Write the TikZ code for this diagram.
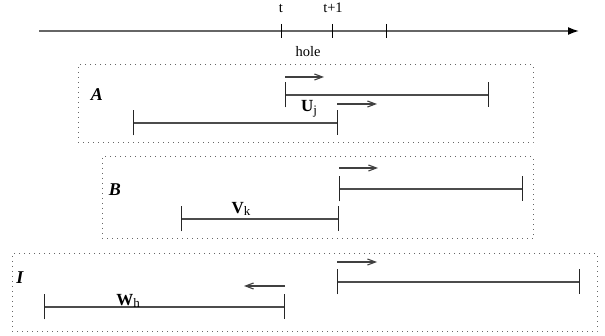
\documentclass[tikz,border=0pt]{standalone}
\usepackage{fontspec}
\setmainfont{Liberation Serif}
\usetikzlibrary{arrows.meta}
\tikzset{
  x=1pt,y=-1pt,
  txt/.style={inner sep=0pt,font=\fontsize{14.5}{16}\selectfont},
  boxlabel/.style={inner sep=0pt,font=\fontsize{18}{20}\selectfont\bfseries\itshape},
  seglabel/.style={inner sep=0pt,font=\fontsize{17}{19}\selectfont},
  frame/.style={draw=black!60,line width=1pt,dash pattern=on 1pt off 4pt},
  seg/.style={draw=black!70,line width=1.2pt,{Bar[width=25pt,line width=1.2pt,black!85]}-{Bar[width=25pt,line width=1.2pt,black!85]}},
  dir/.style={draw=black!75,line width=1.1pt,-{Straight Barb[length=8pt,width=6pt,line width=1.1pt]}},
  axis/.style={draw=black!60,line width=1.6pt,-{Latex[length=11pt,width=8pt,black]}},
  tick/.style={draw=black,line width=1pt}
}
\begin{document}
\begin{tikzpicture}
\useasboundingbox (0,0) rectangle (605,336);
% time axis
\coordinate (ax0) at (39,31);
\coordinate (ax1) at (579,31);
\draw[axis] (ax0) -- (ax1);
\foreach \n/\x in {t0/281,t1/332,t2/386}{
  \coordinate (\n a) at (\x,24);
  \coordinate (\n b) at (\x,38);
  \draw[tick] (\n a) -- (\n b);
}
\node[txt] (lt) at (281,8) {t};
\node[txt] (lt1) at (333,8) {t+1};
\node[txt] (lhole) at (308,52) {hole};
% box A
\node[frame,draw,minimum width=455pt,minimum height=78pt,inner sep=0pt] (boxA) at (305.5,104) {};
\node[boxlabel] (labA) at (97,95) {A};
\coordinate (a1l) at (285,95); \coordinate (a1r) at (489,95);
\coordinate (a2l) at (133,123); \coordinate (a2r) at (338,123);
\draw[seg] (a1l) -- (a1r);
\draw[seg] (a2l) -- (a2r);
\coordinate (aa1s) at (285,77); \coordinate (aa1e) at (324,77);
\coordinate (aa2s) at (337,104); \coordinate (aa2e) at (377,104);
\draw[dir] (aa1s) -- (aa1e);
\draw[dir] (aa2s) -- (aa2e);
\node[seglabel] (labU) at (309,109) {\textbf{U}\raisebox{-0.35ex}{\fontsize{13}{15}\selectfont j}};
% box B
\node[frame,draw,minimum width=431pt,minimum height=82pt,inner sep=0pt] (boxB) at (317.5,198) {};
\node[boxlabel] (labB) at (115,190) {B};
\coordinate (b1l) at (339,189); \coordinate (b1r) at (523,189);
\coordinate (b2l) at (181,219); \coordinate (b2r) at (339,219);
\draw[seg] (b1l) -- (b1r);
\draw[seg] (b2l) -- (b2r);
\coordinate (ba1s) at (339,168); \coordinate (ba1e) at (378,168);
\draw[dir] (ba1s) -- (ba1e);
\node[seglabel] (labV) at (241,209) {\textbf{V}\raisebox{-0.35ex}{\fontsize{13}{15}\selectfont k}};
% box I
\node[frame,draw,minimum width=585pt,minimum height=78pt,inner sep=0pt] (boxI) at (304.5,293) {};
\node[boxlabel] (labI) at (20,278) {I};
\coordinate (i1l) at (337,282); \coordinate (i1r) at (580,282);
\coordinate (i2l) at (44,307); \coordinate (i2r) at (285,307);
\draw[seg] (i1l) -- (i1r);
\draw[seg] (i2l) -- (i2r);
\coordinate (ia1s) at (337,262); \coordinate (ia1e) at (377,262);
\coordinate (ia2s) at (285,286); \coordinate (ia2e) at (244,286);
\draw[dir] (ia1s) -- (ia1e);
\draw[dir] (ia2s) -- (ia2e);
\node[seglabel] (labW) at (128,301) {\textbf{W}\raisebox{-0.35ex}{\fontsize{13}{15}\selectfont h}};
\end{tikzpicture}
\end{document}
